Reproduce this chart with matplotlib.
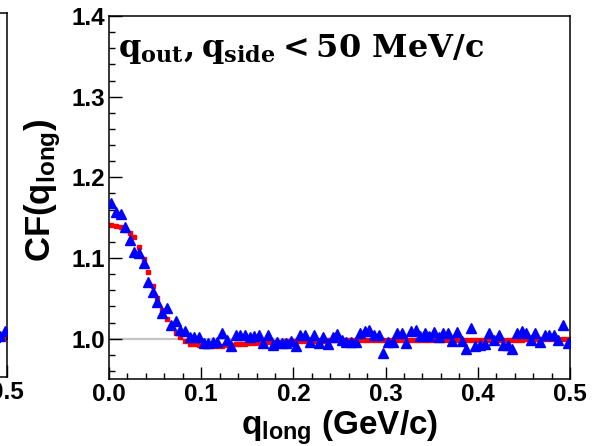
"""
Longitudinal correlation function panel.
"""

import matplotlib

matplotlib.use("Agg")

import matplotlib.pyplot as plt

# =====================================================
# Data
# =====================================================

q_long = [0.0025 + 0.005 * i for i in range(100)]

cf_data = [
    1.168, 1.157, 1.154, 1.138, 1.122, 1.108, 1.106, 1.094, 1.070, 1.058,
    1.046, 1.032, 1.038, 1.017, 1.022, 1.011, 1.009, 1.002, 1.002, 1.002,
    0.995, 0.995, 0.996, 0.996, 1.007, 0.998, 0.991, 1.005, 1.005, 1.005,
    1.002, 1.003, 1.004, 0.995, 1.004, 0.992, 0.996, 0.995, 0.995, 0.997,
    0.991, 1.005, 1.005, 0.996, 1.005, 0.995, 1.002, 0.994, 1.002, 1.006,
    0.998, 0.996, 0.996, 0.996, 1.007, 1.010, 1.011, 1.005, 1.005, 0.982,
    0.996, 0.996, 1.007, 1.007, 0.995, 1.010, 1.011, 1.003, 1.007, 1.003,
    1.008, 1.002, 1.007, 1.007, 0.997, 1.008, 0.997, 0.987, 1.013, 0.991,
    0.992, 0.994, 1.007, 0.998, 1.004, 0.992, 0.992, 0.987, 1.007, 1.009,
    1.007, 0.998, 1.007, 0.996, 1.005, 1.004, 1.004, 0.998, 1.017, 0.995,
]

cf_model = [
    1.141, 1.140, 1.138, 1.135, 1.131, 1.126, 1.114, 1.099, 1.083, 1.065,
    1.051, 1.036, 1.025, 1.015, 1.007, 1.002, 0.997, 0.994, 0.993, 0.992,
    0.991, 0.991, 0.991, 0.991, 0.9915, 0.992, 0.9925, 0.993, 0.9935, 0.994,
    0.9945, 0.995, 0.995, 0.9955, 0.9955, 0.996, 0.996, 0.9963, 0.9965, 0.9967,
    0.997, 0.997, 0.9972, 0.9973, 0.9975, 0.9976, 0.9977, 0.9978, 0.998, 0.998,
    0.998, 0.998, 0.998, 0.998, 0.998, 0.998, 0.998, 0.998, 0.998, 0.998,
    0.998, 0.998, 0.998, 0.998, 0.998, 0.998, 0.998, 0.998, 0.998, 0.998,
    0.9985, 0.9985, 0.9985, 0.9985, 0.9985, 0.9985, 0.9985, 0.9985, 0.9985, 0.9985,
    0.9985, 0.9985, 0.9985, 0.9985, 0.9985, 0.9985, 0.9985, 0.9985, 0.9985, 0.9985,
    0.999, 0.999, 0.999, 0.999, 0.999, 0.999, 0.999, 0.999, 0.999, 0.999,
]

# tail of the neighbouring panel on the left
q_prev = [0.4875, 0.4925, 0.4975]
cf_prev_data = [0.999, 1.001, 1.007]
cf_prev_model = [0.9995, 0.9995, 0.9995]

x_ticks = [0.0, 0.1, 0.2, 0.3, 0.4, 0.5]
y_ticks = [1.0, 1.1, 1.2, 1.3, 1.4]

# =====================================================
# Style
# =====================================================

plt.rcParams["font.family"] = ["Liberation Sans", "DejaVu Sans"]
plt.rcParams["font.weight"] = "bold"
plt.rcParams["axes.labelweight"] = "bold"
plt.rcParams["mathtext.fontset"] = "custom"
plt.rcParams["mathtext.rm"] = "Liberation Sans:bold"
plt.rcParams["mathtext.bf"] = "Liberation Sans:bold"
plt.rcParams["mathtext.it"] = "Liberation Sans:bold"

W, H = 595, 446


def frame(ax):

    ax.set_xlim(0.0, 0.5)
    ax.set_ylim(0.95, 1.4)

    for side in ("left", "bottom", "right", "top"):
        ax.spines[side].set_linewidth(1.1)

    ax.set_xticks(x_ticks)
    ax.set_xticks(
        [i * 0.02 for i in range(26)],
        minor=True,
    )
    ax.set_yticks(y_ticks)
    ax.set_yticks(
        [0.96 + i * 0.02 for i in range(23)],
        minor=True,
    )

    ax.tick_params(
        which="both",
        direction="in",
        top=False,
        right=False,
        labelsize=17.5,
        width=1.0,
        pad=3,
    )
    ax.tick_params(which="major", length=9)
    ax.tick_params(which="minor", length=4.5)


def draw(ax, q, data, model):

    ax.axhline(
        1.0,
        color="#c4c4c4",
        linewidth=1.6,
        zorder=1,
    )

    ax.errorbar(
        q,
        data,
        yerr=0.003,
        fmt="^",
        color="#0000ff",
        markersize=6.5,
        elinewidth=0.6,
        capsize=0,
        zorder=3,
    )

    ax.errorbar(
        q,
        model,
        yerr=0.001,
        fmt="s",
        color="#ff0000",
        markersize=3.0,
        elinewidth=0.6,
        capsize=0,
        zorder=2,
    )


fig = plt.figure(figsize=(W / 100, H / 100), dpi=100)

# =====================================================
# Neighbouring panel (cut off)
# =====================================================

ax_prev = fig.add_axes(
    [(7 - 461) / W, 1 - 377 / H, 461 / W, 364 / H]
)
frame(ax_prev)
ax_prev.set_yticklabels([])
draw(ax_prev, q_prev, cf_prev_data, cf_prev_model)
ax_prev.set_xticklabels(["", "", "", "", "", "0.5"])

# =====================================================
# Main panel
# =====================================================

ax = fig.add_axes(
    [109 / W, 1 - 379 / H, 461 / W, 363 / H]
)
frame(ax)
draw(ax, q_long, cf_data, cf_model)

ax.set_xticklabels([f"{t:.1f}" for t in x_ticks])
ax.set_yticklabels([f"{t:.1f}" for t in y_ticks])

ax.set_xlabel(
    r"q$_{\rm long}$ (GeV/c)",
    fontsize=24,
    fontweight="bold",
)
ax.xaxis.set_label_coords(0.5, -0.08)

ax.set_ylabel(
    r"CF(q$_{\rm long}$)",
    fontsize=25,
    fontweight="bold",
)
ax.yaxis.set_label_coords(-0.10, 0.52)

ax.text(
    0.02,
    0.887,
    r"$\mathbf{q_{out}, q_{side} < 50\ MeV/c}$",
    transform=ax.transAxes,
    fontsize=23,
    math_fontfamily="dejavuserif",
    va="baseline",
    ha="left",
)

fig.savefig("out.png", dpi=100)
